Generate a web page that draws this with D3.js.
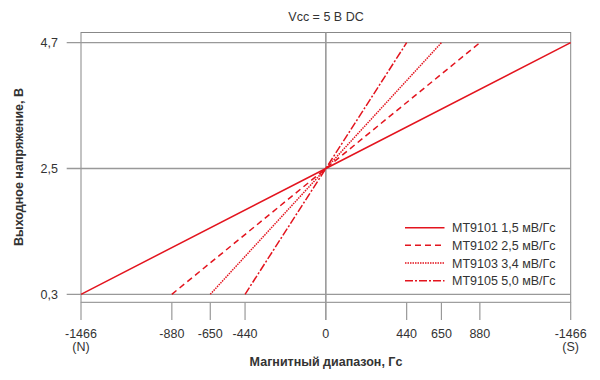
<!DOCTYPE html>
<html>
<head>
<meta charset="utf-8">
<script src="https://cdn.jsdelivr.net/npm/d3@7"></script>
<style>
  body { margin: 0; background: #fff; }
  text { font-family: "Liberation Sans", Arial, sans-serif; fill: #333; }
</style>
</head>
<body>
<div id="chart"></div>
<script>
// data
const seriesNames = ['MT9101 1,5 мВ/Гс', 'MT9102 2,5 мВ/Гс', 'MT9103 3,4 мВ/Гс', 'MT9105 5,0 мВ/Гс'];
const fieldLimits = [1466, 880, 650, 440];   // Гс at which output hits the rails
const voltMin = 0.3, voltMid = 2.5, voltMax = 4.7;
const yTicks = [0.3, 2.5, 4.7];
const yTickLabels = ['0,3', '2,5', '4,7'];
const xTicks = [-1466, -880, -650, -440, 0, 440, 650, 880, 1466];
const xTickLabels = ['-1466|(N)', '-880', '-650', '-440', '0', '440', '650', '880', '-1466|(S)'];

const width = 600, height = 380;
const plotLeft = 81, plotRight = 570.7, plotTop = 32.5, plotBottom = 302.3;
const red = '#e3141e';
const grey = '#999';
const dashes = [null, '6,4', '1.5,1', '8,2,2,2'];

const svg = d3.select('#chart').append('svg')
  .attr('width', width)
  .attr('height', height);

// the drawing is not to scale: the axis is stretched between the tick marks
const half = (plotRight - plotLeft) / 2, mid = plotLeft + half;
const frac = [1, 0.629, 0.472, 0.330, 0, 0.330, 0.472, 0.629, 1];
const x = d3.scaleLinear()
  .domain(xTicks)
  .range(xTicks.map((t, i) => mid + Math.sign(t) * frac[i] * half));

const y = d3.scaleLinear()
  .domain([voltMin, voltMax])
  .range([294.3, 42.7]);

// frame
svg.append('rect')
  .attr('x', plotLeft).attr('y', plotTop)
  .attr('width', plotRight - plotLeft).attr('height', plotBottom - plotTop)
  .attr('fill', 'none').attr('stroke', '#888').attr('stroke-width', 1);

// horizontal reference lines + y ticks
svg.selectAll('line.h')
  .data(yTicks)
  .enter()
  .append('line')
  .attr('class', 'h')
  .attr('x1', 66.7).attr('x2', plotRight)
  .attr('y1', d => y(d)).attr('y2', d => y(d))
  .attr('stroke', grey).attr('stroke-width', 1.3);

svg.selectAll('text.yl')
  .data(yTicks)
  .enter()
  .append('text')
  .attr('class', 'yl')
  .attr('x', 58)
  .attr('y', d => y(d) + 4.5)
  .attr('text-anchor', 'end')
  .style('font-size', '12.5px')
  .text((d, i) => yTickLabels[i]);

// x ticks
svg.selectAll('line.v')
  .data(xTicks)
  .enter()
  .append('line')
  .attr('class', 'v')
  .attr('x1', d => x(d)).attr('x2', d => x(d))
  .attr('y1', d => d === 0 ? plotTop : plotBottom)
  .attr('y2', 320)
  .attr('stroke', grey)
  .attr('stroke-width', d => d === 0 ? 1.6 : 1.2);

const xl = svg.selectAll('text.xl')
  .data(xTicks)
  .enter()
  .append('text')
  .attr('class', 'xl')
  .attr('text-anchor', 'middle')
  .style('font-size', '12.5px');

xl.each(function (d, i) {
  const parts = xTickLabels[i].split('|');
  parts.forEach((p, j) => {
    d3.select(this).append('tspan')
      .attr('x', x(d))
      .attr('y', 337.5 + j * 13.5)
      .text(p);
  });
});

// series
const line = d3.line().x(d => x(d[0])).y(d => y(d[1]));
fieldLimits.forEach((lim, i) => {
  svg.append('path')
    .datum([[-lim, voltMin], [0, voltMid], [lim, voltMax]])
    .attr('d', line)
    .attr('fill', 'none')
    .attr('stroke', red)
    .attr('stroke-width', 1.5)
    .attr('stroke-dasharray', dashes[i]);
});

// legend
const legend = svg.append('g');
seriesNames.forEach((name, i) => {
  const ly = 227.7 + i * 17.65;
  legend.append('line')
    .attr('x1', 405).attr('x2', 444.5)
    .attr('y1', ly).attr('y2', ly)
    .attr('stroke', red)
    .attr('stroke-width', 1.5)
    .attr('stroke-dasharray', dashes[i]);
  legend.append('text')
    .attr('x', 452)
    .attr('y', ly + 4.5)
    .style('font-size', '12.5px')
    .text(name);
});

// titles
svg.append('text')
  .attr('x', 326).attr('y', 21)
  .attr('text-anchor', 'middle')
  .style('font-size', '12.5px')
  .text('Vcc = 5 В DC');

svg.append('text')
  .attr('x', 326).attr('y', 365.7)
  .attr('text-anchor', 'middle')
  .style('font-size', '12.5px')
  .style('font-weight', 'bold')
  .text('Магнитный диапазон, Гс');

svg.append('text')
  .attr('transform', 'translate(23,167) rotate(-90)')
  .attr('text-anchor', 'middle')
  .style('font-size', '12.5px')
  .style('font-weight', 'bold')
  .text('Выходное напряжение, В');
</script>
</body>
</html>
